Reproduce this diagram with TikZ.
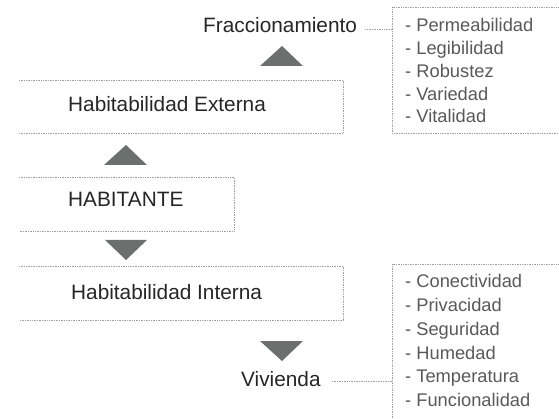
\documentclass[tikz,border=0pt]{standalone}
\usepackage{fontspec}
\setmainfont{Liberation Sans}
\definecolor{tri}{HTML}{6B706F}
\definecolor{lab}{HTML}{262626}
\definecolor{itm}{HTML}{595959}
\definecolor{ln}{HTML}{A0A0A0}
\begin{document}
\begin{tikzpicture}[x=1pt,y=-1pt,
  lbl/.style={font=\fontsize{20.8}{24}\selectfont, text=lab, inner sep=0pt, anchor=base west},
  itemtxt/.style={font=\fontsize{18.3}{22}\selectfont, text=itm, inner sep=0pt, anchor=base west},
  frame/.style={draw=ln, densely dotted, line width=0.7pt},
  conn/.style={draw=ln, densely dotted, line width=0.7pt},
  tribox/.style={fill=tri}]
\useasboundingbox (0,0) rectangle (559,419);

% three-sided frames of the main boxes
\draw[frame] (19,80) -- (343,80) -- (343,133) -- (19,133);
\draw[frame] (19,177) -- (234,177) -- (234,231) -- (19,231);
\draw[frame] (19,266) -- (343,266) -- (343,320) -- (19,320);

% list frames
\draw[frame] (565,7) -- (392,7) -- (392,133) -- (565,133);
\draw[frame] (565,264) -- (392,264) -- (392,425);

% labels
\node[lbl] (frac) at (203,33) {Fraccionamiento};
\node[lbl] (ext) at (68,112) {Habitabilidad Externa};
\node[lbl] (hab) at (68,207) {HABITANTE};
\node[lbl] (int) at (71,300) {Habitabilidad Interna};
\node[lbl] (viv) at (241,386) {Vivienda};

% triangles
\fill[tribox] (260,66) -- (282,46) -- (303,66) -- cycle;
\fill[tribox] (104,165) -- (126,145) -- (147,165) -- cycle;
\fill[tribox] (105,240) -- (147,240) -- (126,260) -- cycle;
\fill[tribox] (260,341) -- (303,341) -- (282,361) -- cycle;

% list items
\foreach \t [count=\i from 0] in {Permeabilidad, Legibilidad, Robustez, Variedad, Vitalidad}
  \node[itemtxt] (a\i) at (405, 32+22.75*\i) {- \t};
\foreach \t [count=\i from 0] in {Conectividad, Privacidad, Seguridad, Humedad, Temperatura, Funcionalidad}
  \node[itemtxt] (b\i) at (405, 287.3+23.9*\i) {- \t};

% connectors
\coordinate (l1) at (392,29);
\coordinate (l2) at (392,381);
\draw[conn, shorten <=8pt] (frac.east |- l1) -- (l1);
\draw[conn, shorten <=11pt] (viv.east |- l2) -- (l2);
\end{tikzpicture}
\end{document}
